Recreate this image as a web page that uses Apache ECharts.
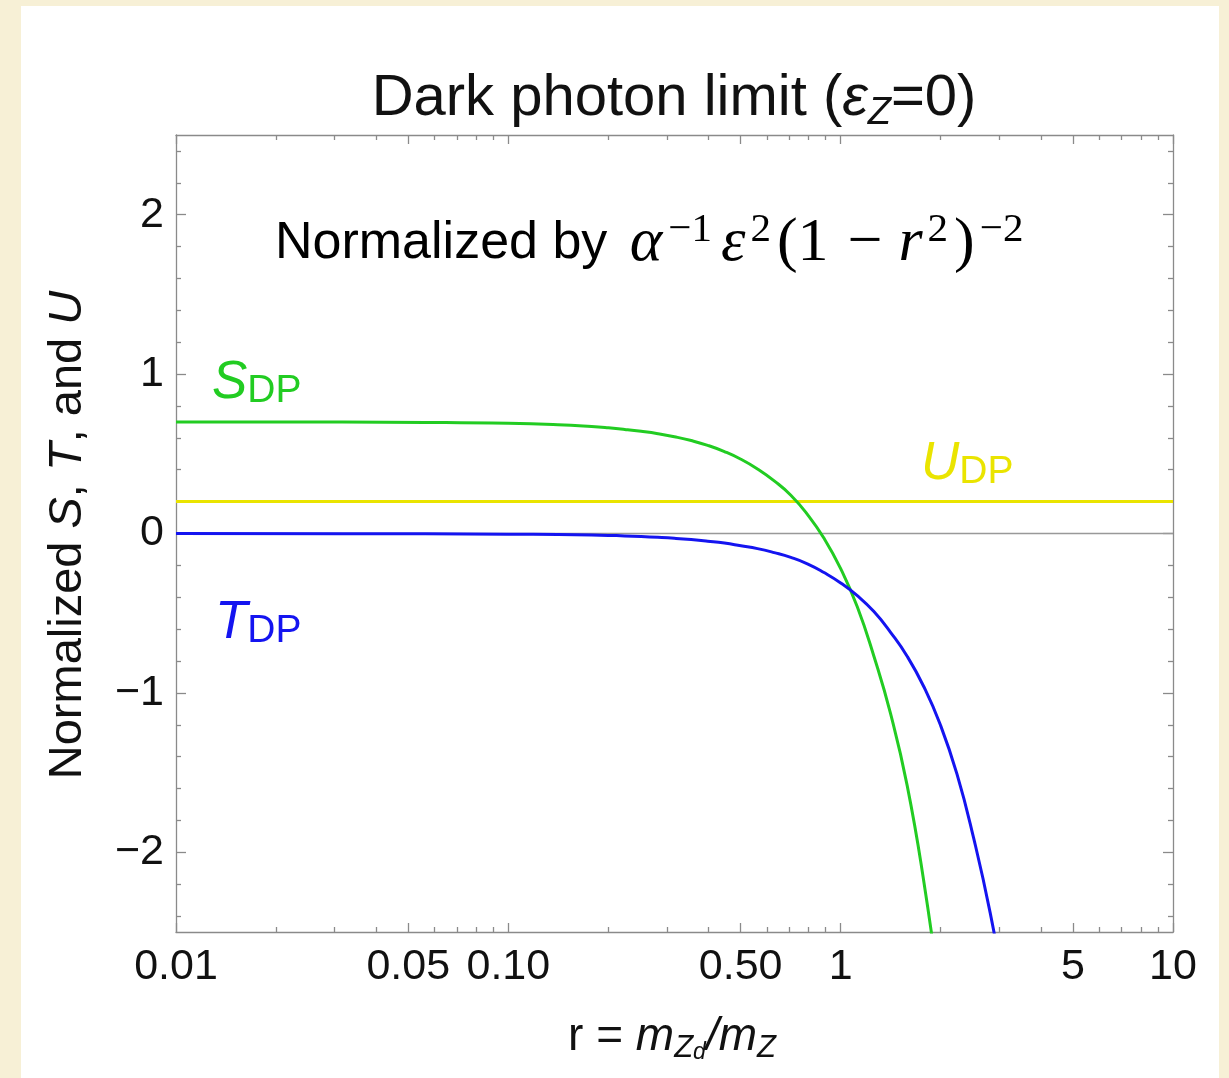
<!DOCTYPE html>
<html>
<head>
<meta charset="utf-8">
<script src="https://cdn.jsdelivr.net/npm/echarts@6/dist/echarts.min.js"></script>
<style>
  html, body { margin:0; padding:0; background:#F7F0D6; width:1229px; height:1078px; overflow:hidden; }
  #chart { position:absolute; left:21px; top:6px; width:1198px; height:1072px; background:#ffffff; }
</style>
</head>
<body>
<div id="chart"></div>
<script>
// ---- data ----
const sR = [0.01, 0.0316, 0.0562, 0.1, 0.141, 0.178, 0.2, 0.224, 0.251, 0.282, 0.316, 0.355, 0.398, 0.447, 0.501, 0.562, 0.631, 0.708, 0.794, 0.891, 1.0, 1.122, 1.259, 1.413, 1.585, 1.778, 1.995];
const sV = [0.70, 0.699, 0.697, 0.691, 0.682, 0.671, 0.663, 0.653, 0.641, 0.626, 0.607, 0.583, 0.553, 0.514, 0.466, 0.405, 0.33, 0.24, 0.12, -0.03, -0.22, -0.46, -0.77, -1.13, -1.58, -2.18, -2.92];
const tR = [0.01, 0.0316, 0.0562, 0.1, 0.141, 0.178, 0.2, 0.224, 0.251, 0.282, 0.316, 0.355, 0.398, 0.447, 0.501, 0.562, 0.631, 0.708, 0.794, 0.891, 1.0, 1.122, 1.259, 1.413, 1.585, 1.778, 1.995, 2.239, 2.512, 2.818, 3.162];
const tV = [0.0, -0.001, -0.002, -0.004, -0.007, -0.01, -0.012, -0.015, -0.019, -0.024, -0.03, -0.038, -0.048, -0.06, -0.077, -0.095, -0.12, -0.15, -0.19, -0.245, -0.31, -0.39, -0.49, -0.62, -0.77, -0.96, -1.20, -1.51, -1.91, -2.38, -2.95];
const uR = [0.01, 10];
const uV = [0.2, 0.2];

const xMajorTicks = [0.01, 0.05, 0.1, 0.5, 1, 5, 10];
const xMajorLabels = ['0.01', '0.05', '0.10', '0.50', '1', '5', '10'];
const xMinorTicks = [0.02, 0.03, 0.04, 0.06, 0.07, 0.08, 0.09, 0.2, 0.3, 0.4, 0.6, 0.7, 0.8, 0.9, 2, 3, 4, 6, 7, 8, 9];
const yMajorTicks = [-2, -1, 0, 1, 2];
const yMajorLabels = ['\u22122', '\u22121', '0', '1', '2'];
const yMinorTicks = [-2.4, -2.2, -1.8, -1.6, -1.4, -1.2, -0.8, -0.6, -0.4, -0.2, 0.2, 0.4, 0.6, 0.8, 1.2, 1.4, 1.6, 1.8, 2.2, 2.4];

const GREEN = '#22CC22', BLUE = '#1414F0', YELLOW = '#EAE400';
const SANS = '"Liberation Sans", Arial, Helvetica, sans-serif';
const SERIF = '"Liberation Serif", "Times New Roman", serif';
const FRAME = '#8a8a8a';

function pairs(xs, ys) { return xs.map((x, i) => [x, ys[i]]); }
const lg = v => Math.log10(v);

function xTickAxis(position, vals, len, withLine, withLabels) {
  return {
    type: 'value', gridIndex: 0, position: position, min: -2, max: 1,
    axisLine: { show: withLine, onZero: false, lineStyle: { color: FRAME, width: 1.3 } },
    axisTick: { show: true, inside: true, length: len, customValues: vals.map(lg), lineStyle: { color: FRAME, width: 1.3 } },
    axisLabel: withLabels ? {
      show: true, customValues: xMajorTicks.map(lg), margin: 14,
      fontSize: 43, fontFamily: SANS, color: '#111',
      showMinLabel: true, showMaxLabel: true,
      formatter: function (v) {
        for (let i = 0; i < xMajorTicks.length; i++) if (Math.abs(lg(xMajorTicks[i]) - v) < 1e-6) return xMajorLabels[i];
        return '';
      }
    } : { show: false },
    splitLine: { show: false }
  };
}
function yTickAxis(position, vals, len, withLine, withLabels) {
  return {
    type: 'value', gridIndex: 0, position: position, min: -2.5, max: 2.5,
    axisLine: { show: withLine, onZero: false, lineStyle: { color: FRAME, width: 1.3 } },
    axisTick: { show: true, inside: true, length: len, customValues: vals, lineStyle: { color: FRAME, width: 1.3 } },
    axisLabel: withLabels ? {
      show: true, customValues: yMajorTicks, margin: 12,
      fontSize: 43, fontFamily: SANS, color: '#111',
      showMinLabel: true, showMaxLabel: true,
      formatter: function (v) {
        for (let i = 0; i < yMajorTicks.length; i++) if (Math.abs(yMajorTicks[i] - v) < 1e-6) return yMajorLabels[i];
        return '';
      }
    } : { show: false },
    splitLine: { show: false }
  };
}

const chart = echarts.init(document.getElementById('chart'), null, { renderer: 'canvas' });
const mathMain = { fontSize: 62, fontFamily: SERIF, fill: '#000', lineHeight: 68 };
const option = {
  animation: false,
  backgroundColor: '#ffffff',
  grid: { left: 155, right: 46, top: 129, bottom: 146 },
  xAxis: [
    { type: 'log', logBase: 10, min: 0.01, max: 10, gridIndex: 0, show: false },
    xTickAxis('bottom', xMajorTicks, 9, true, true),
    xTickAxis('bottom', xMinorTicks, 5, false, false),
    xTickAxis('top', xMajorTicks, 9, true, false),
    xTickAxis('top', xMinorTicks, 5, false, false)
  ],
  yAxis: [
    yTickAxis('left', yMajorTicks, 10, true, true),
    yTickAxis('left', yMinorTicks, 5, false, false),
    yTickAxis('right', yMajorTicks, 10, true, false),
    yTickAxis('right', yMinorTicks, 5, false, false)
  ],
  series: [
    {
      name: 'U', type: 'line', xAxisIndex: 0, yAxisIndex: 0, data: pairs(uR, uV),
      showSymbol: false, symbol: 'none', lineStyle: { color: YELLOW, width: 3 }, z: 3,
      markLine: {
        silent: true, symbol: 'none', label: { show: false },
        lineStyle: { color: '#999999', width: 1.3, type: 'solid' },
        data: [{ yAxis: 0 }], z: 1
      }
    },
    {
      name: 'S', type: 'line', xAxisIndex: 0, yAxisIndex: 0, data: pairs(sR, sV),
      smooth: 0.5, showSymbol: false, symbol: 'none', lineStyle: { color: GREEN, width: 3 }, z: 4
    },
    {
      name: 'T', type: 'line', xAxisIndex: 0, yAxisIndex: 0, data: pairs(tR, tV),
      smooth: 0.5, showSymbol: false, symbol: 'none', lineStyle: { color: BLUE, width: 3 }, z: 5
    }
  ],
  graphic: [
    {
      type: 'text', x: 653, y: 93,
      style: {
        text: '{n|Dark photon limit (}{i|\u03B5}{s|Z}{n|=0)}',
        align: 'center', verticalAlign: 'middle',
        rich: {
          n: { fontSize: 58, fontFamily: SANS, fill: '#111', lineHeight: 66 },
          i: { fontSize: 58, fontFamily: SANS, fontStyle: 'italic', fill: '#111', lineHeight: 66 },
          s: { fontSize: 38, fontFamily: SANS, fontStyle: 'italic', fill: '#111', lineHeight: 38, verticalAlign: 'bottom' }
        }
      }
    },
    {
      type: 'text', x: 254, y: 238,
      style: {
        text: '{n|Normalized by }{a|\u03B1}{p|\u22121}{e|\u03B5}{p|2}{u|(1}{mi|\u2212}{m|r}{p|2}{u|)}{p|\u22122}',
        align: 'left', verticalAlign: 'middle',
        rich: {
          n: { fontSize: 52, fontFamily: SANS, fill: '#000', lineHeight: 68, padding: [0, 8, 0, 0] },
          a: Object.assign({}, mathMain, { fontStyle: 'italic', padding: [0, 4, 0, 0] }),
          e: Object.assign({}, mathMain, { fontStyle: 'italic', padding: [0, 3, 0, 6] }),
          m: Object.assign({}, mathMain, { fontStyle: 'italic', padding: [0, 3, 0, 0] }),
          u: Object.assign({}, mathMain, { padding: [0, 3, 0, 3] }),
          mi: Object.assign({}, mathMain, { padding: [0, 16, 0, 16] }),
          p: { fontSize: 41, fontFamily: SERIF, fill: '#000', lineHeight: 34, verticalAlign: 'top', padding: [0, 3, 0, 2] }
        }
      }
    },
    {
      type: 'text', x: 191, y: 377,
      style: {
        text: '{i|S}{s|DP}', align: 'left', verticalAlign: 'middle',
        rich: {
          i: { fontSize: 53, fontFamily: SANS, fontStyle: 'italic', fill: GREEN, lineHeight: 56 },
          s: { fontSize: 39, fontFamily: SANS, fill: GREEN, lineHeight: 40, verticalAlign: 'bottom' }
        }
      }
    },
    {
      type: 'text', x: 194, y: 617,
      style: {
        text: '{i|T}{s|DP}', align: 'left', verticalAlign: 'middle',
        rich: {
          i: { fontSize: 53, fontFamily: SANS, fontStyle: 'italic', fill: BLUE, lineHeight: 56 },
          s: { fontSize: 39, fontFamily: SANS, fill: BLUE, lineHeight: 40, verticalAlign: 'bottom' }
        }
      }
    },
    {
      type: 'text', x: 900, y: 458,
      style: {
        text: '{i|U}{s|DP}', align: 'left', verticalAlign: 'middle',
        rich: {
          i: { fontSize: 53, fontFamily: SANS, fontStyle: 'italic', fill: YELLOW, lineHeight: 56 },
          s: { fontSize: 39, fontFamily: SANS, fill: YELLOW, lineHeight: 40, verticalAlign: 'bottom' }
        }
      }
    },
    {
      type: 'text', x: 47, y: 529, rotation: Math.PI / 2,
      style: {
        text: '{n|Normalized }{i|S}{n|, }{i|T}{n|, and }{i|U}',
        align: 'center', verticalAlign: 'middle',
        rich: {
          n: { fontSize: 47, fontFamily: SANS, fill: '#111' },
          i: { fontSize: 47, fontFamily: SANS, fontStyle: 'italic', fill: '#111' }
        }
      }
    },
    {
      type: 'text', x: 651, y: 1031,
      style: {
        text: '{n|r = }{i|m}{s|Z}{d|d}{i|/m}{s|Z}',
        align: 'center', verticalAlign: 'middle',
        rich: {
          n: { fontSize: 46, fontFamily: SANS, fill: '#111', lineHeight: 54 },
          i: { fontSize: 46, fontFamily: SANS, fontStyle: 'italic', fill: '#111', lineHeight: 54 },
          s: { fontSize: 31, fontFamily: SANS, fontStyle: 'italic', fill: '#111', lineHeight: 31, verticalAlign: 'bottom' },
          d: { fontSize: 23, fontFamily: SANS, fontStyle: 'italic', fill: '#111', lineHeight: 12, verticalAlign: 'bottom' }
        }
      }
    }
  ]
};
chart.setOption(option);
</script>
</body>
</html>
